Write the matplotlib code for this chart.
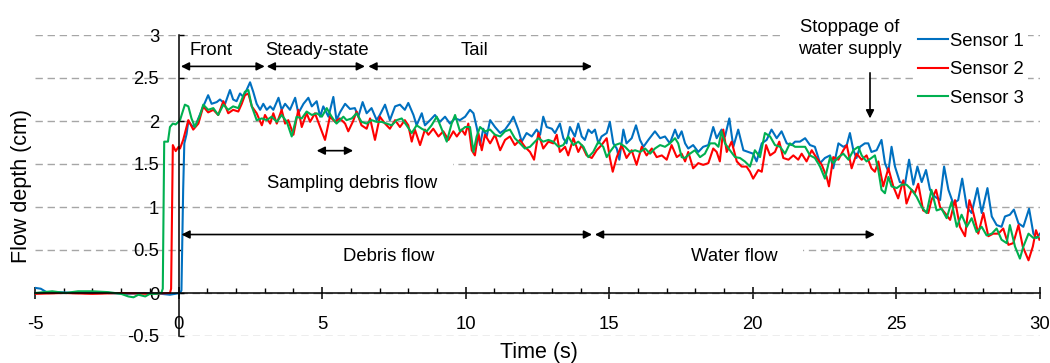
import matplotlib
matplotlib.use("Agg")
import matplotlib.pyplot as plt
from matplotlib.patches import Rectangle
from matplotlib.ticker import MultipleLocator, FormatStrFormatter

plt.rcParams['font.family'] = ['Liberation Sans', 'DejaVu Sans']
plt.rcParams['axes.unicode_minus'] = False

# Flow depth records (time in s, depth in cm) for the three sensors
t1 = [-5.0, -4.8, -4.55, -4.2, -3.6, -3.0, -2.4, -1.8, -1.2, -0.6, -0.3, 0.05, 0.1, 0.16, 0.2, 0.28,
      0.34, 0.45, 0.57, 0.69, 0.86, 1.03, 1.15, 1.33, 1.44, 1.62, 1.79, 1.9, 2.02, 2.14, 2.26, 2.37,
      2.49, 2.6, 2.72, 2.84, 2.95, 3.07, 3.19, 3.3, 3.48, 3.59, 3.71, 3.88, 4.06, 4.17, 4.35, 4.52,
      4.64, 4.81, 4.93, 5.04, 5.22, 5.39, 5.5, 5.62, 5.8, 5.97, 6.14, 6.26, 6.41, 6.55, 6.72, 6.9,
      7.01, 7.19, 7.36, 7.54, 7.71, 7.88, 8.0, 8.18, 8.29, 8.47, 8.58, 8.76, 8.93, 9.1, 9.28, 9.45,
      9.63, 9.8, 9.98, 10.15, 10.27, 10.38, 10.5, 10.61, 10.73, 10.85, 11.02, 11.2, 11.37, 11.54,
      11.66, 11.83, 11.95, 12.12, 12.3, 12.47, 12.59, 12.7, 12.82, 13.0, 13.11, 13.28, 13.4, 13.51,
      13.63, 13.8, 13.92, 14.04, 14.15, 14.27, 14.39, 14.5, 14.62, 14.73, 14.91, 15.02, 15.14,
      15.26, 15.35, 15.49, 15.6, 15.78, 15.93, 16.07, 16.19, 16.36, 16.59, 16.77, 16.94, 17.11,
      17.29, 17.4, 17.52, 17.64, 17.75, 17.92, 18.1, 18.27, 18.45, 18.62, 18.74, 18.91, 19.03,
      19.18, 19.32, 19.49, 19.67, 19.84, 20.01, 20.13, 20.31, 20.48, 20.65, 20.83, 21.0, 21.18,
      21.35, 21.47, 21.64, 21.82, 21.99, 22.16, 22.34, 22.51, 22.69, 22.8, 22.98, 23.15, 23.27,
      23.38, 23.5, 23.61, 23.73, 23.9, 24.02, 24.13, 24.31, 24.48, 24.6, 24.72, 24.83, 24.95,
      25.12, 25.3, 25.44, 25.59, 25.73, 25.88, 26.03, 26.17, 26.34, 26.52, 26.66, 26.81, 26.98,
      27.15, 27.29, 27.45, 27.62, 27.82, 27.97, 28.17, 28.32, 28.49, 28.66, 28.78, 28.95, 29.09,
      29.25, 29.42, 29.62, 29.77, 29.88, 30.0]
d1 = [0.06, 0.05, 0.0, 0.01, 0.0, 0.01, 0.0, -0.01, 0.0, -0.01, -0.02, 0.0, 0.03, 1.2, 1.74, 1.85,
      2.0, 1.95, 1.93, 2.03, 2.17, 2.30, 2.2, 2.22, 2.25, 2.2, 2.36, 2.25, 2.23, 2.32, 2.28, 2.36,
      2.45, 2.34, 2.2, 2.13, 2.2, 2.13, 2.17, 2.13, 2.27, 2.13, 2.2, 2.13, 2.27, 2.09, 2.2, 2.27,
      2.17, 2.23, 2.05, 2.17, 2.05, 2.28, 2.01, 2.1, 2.2, 2.14, 2.15, 2.05, 2.22, 2.09, 2.15, 2.01,
      2.07, 2.19, 2.01, 2.17, 2.19, 2.13, 2.21, 2.07, 1.95, 2.09, 1.95, 2.01, 2.07, 1.99, 2.05, 1.97,
      2.03, 2.01, 2.05, 2.13, 2.09, 1.93, 1.72, 1.91, 1.82, 2.01, 1.93, 1.86, 1.9, 1.98,
      2.05, 1.9, 1.76, 1.86, 1.82, 1.9, 1.84, 2.05, 1.93, 1.91, 1.86, 1.97, 1.8, 1.74,
      1.93, 1.82, 1.97, 1.82, 1.78, 1.9, 1.86, 1.9, 1.74, 1.82, 1.86, 1.99, 1.74,
      1.68, 1.55, 1.9, 1.74, 1.8, 1.95, 1.78, 1.7, 1.78, 1.88, 1.8, 1.82, 1.74,
      1.9, 1.8, 1.88, 1.74, 1.68, 1.72, 1.64, 1.7, 1.72, 1.93, 1.8, 1.9, 1.82,
      2.03, 1.7, 1.9, 1.66, 1.64, 1.62, 1.53, 1.74, 1.78, 1.9, 1.8, 1.88, 1.74,
      1.72, 1.76, 1.76, 1.8, 1.72, 1.7, 1.51, 1.57, 1.6, 1.45, 1.74, 1.7, 1.72,
      1.86, 1.66, 1.57, 1.7, 1.74, 1.74, 1.64, 1.66, 1.78, 1.51, 1.41, 1.7, 1.47,
      1.29, 1.27, 1.55, 1.26, 1.47, 1.29, 1.43, 1.2, 1.12, 1.08, 1.47, 1.2, 1.04,
      1.08, 1.33, 1.0, 0.93, 1.22, 0.93, 1.22, 0.89, 0.79, 0.77, 0.89, 0.91, 0.97,
      0.81, 0.77, 0.98, 0.69, 0.64, 0.69]

t2 = [-5.0, -4.0, -3.0, -2.0, -1.0, -0.3, -0.26, -0.2, -0.1, 0.0, 0.05, 0.16, 0.34, 0.51, 0.69,
      0.86, 1.03, 1.21, 1.38, 1.56, 1.73, 1.9, 2.08, 2.2, 2.31, 2.43, 2.55, 2.72, 2.9, 3.01, 3.19,
      3.3, 3.42, 3.59, 3.71, 3.82, 4.0, 4.17, 4.29, 4.46, 4.58, 4.75, 4.93, 5.1, 5.27, 5.45, 5.62,
      5.8, 5.91, 6.08, 6.2, 6.37, 6.55, 6.67, 6.84, 7.01, 7.19, 7.36, 7.54, 7.71, 7.88, 8.0, 8.12,
      8.23, 8.41, 8.58, 8.7, 8.87, 9.05, 9.22, 9.4, 9.57, 9.69, 9.86, 9.98, 10.09, 10.21, 10.32,
      10.44, 10.56, 10.67, 10.85, 11.02, 11.2, 11.37, 11.54, 11.71, 11.89, 12.06, 12.24, 12.38,
      12.53, 12.7, 12.88, 13.05, 13.17, 13.28, 13.46, 13.57, 13.75, 13.92, 14.04, 14.21, 14.39,
      14.56, 14.73, 14.91, 15.02, 15.12, 15.26, 15.43, 15.6, 15.78, 15.95, 16.13, 16.3, 16.48,
      16.65, 16.83, 17.0, 17.17, 17.35, 17.52, 17.64, 17.75, 17.92, 18.1, 18.27, 18.45, 18.62,
      18.74, 18.85, 18.97, 19.09, 19.26, 19.44, 19.61, 19.78, 19.9, 20.01, 20.19, 20.31, 20.46,
      20.6, 20.77, 20.92, 21.06, 21.24, 21.41, 21.58, 21.7, 21.87, 22.05, 22.22, 22.4, 22.57,
      22.65, 22.8, 22.98, 23.15, 23.27, 23.44, 23.61, 23.79, 23.96, 24.13, 24.25, 24.37, 24.54,
      24.72, 24.89, 25.06, 25.24, 25.35, 25.53, 25.64, 25.76, 25.93, 26.11, 26.22, 26.38, 26.52,
      26.69, 26.87, 27.04, 27.21, 27.39, 27.54, 27.68, 27.85, 28.03, 28.2, 28.37, 28.55, 28.72,
      28.9, 29.07, 29.25, 29.4, 29.6, 29.75, 29.86, 29.98]
d2 = [-0.01, 0.0, -0.01, 0.0, -0.01, 0.0, 0.05, 1.72, 1.65, 1.7, 1.68, 1.78, 2.01, 1.9, 1.97,
      2.17, 2.1, 2.13, 2.07, 2.23, 2.09, 2.13, 2.11, 2.2, 2.3, 2.32, 2.17, 2.09, 1.95, 2.07, 1.97,
      2.09, 1.97, 2.13, 1.97, 2.01, 1.84, 2.13, 1.93, 2.09, 1.99, 2.09, 1.93, 1.78, 2.05, 1.99, 2.03,
      1.97, 1.88, 2.0, 2.11, 1.95, 1.91, 2.03, 1.78, 2.05, 1.97, 1.91, 2.01, 1.93, 2.01, 1.95, 1.76,
      1.9, 1.72, 1.9, 1.84, 1.91, 1.82, 1.88, 1.78, 1.88, 1.82, 1.9, 1.84, 1.97, 1.66, 1.6,
      1.86, 1.66, 1.84, 1.74, 1.84, 1.66, 1.78, 1.82, 1.72, 1.78, 1.7, 1.64, 1.55,
      1.86, 1.68, 1.76, 1.74, 1.84, 1.64, 1.7, 1.6, 1.8, 1.64, 1.72, 1.6, 1.57,
      1.66, 1.72, 1.8, 1.57, 1.41, 1.58, 1.72, 1.57, 1.66, 1.49, 1.7, 1.6, 1.68,
      1.58, 1.6, 1.55, 1.72, 1.58, 1.62, 1.53, 1.64, 1.45, 1.51, 1.49, 1.51, 1.68,
      1.64, 1.53, 1.9, 1.64, 1.76, 1.53, 1.47, 1.47, 1.41, 1.33, 1.43, 1.41, 1.72,
      1.6, 1.64, 1.76, 1.57, 1.55, 1.6, 1.55, 1.62, 1.53, 1.66, 1.57, 1.49, 1.35,
      1.24, 1.58, 1.55, 1.66, 1.72, 1.45, 1.62, 1.55, 1.6, 1.45, 1.41, 1.53, 1.24,
      1.45, 1.24, 1.1, 1.31, 1.04, 1.2, 1.16, 1.27, 0.96, 0.93, 1.08, 1.2, 1.0,
      0.93, 0.85, 1.08, 0.77, 0.66, 1.08, 0.93, 0.69, 0.93, 0.66, 0.69, 0.69, 0.75,
      0.56, 0.58, 0.79, 0.54, 0.38, 0.54, 0.73, 0.62]

t3 = [-5.0, -4.4, -3.95, -3.5, -3.0, -2.45, -2.0, -1.75, -1.57, -1.4, -1.16, -1.0, -0.8, -0.6,
      -0.55, -0.5, -0.37, -0.3, -0.2, -0.1, 0.05, 0.22, 0.34, 0.45, 0.57, 0.75, 0.86, 1.03, 1.21,
      1.38, 1.56, 1.73, 1.9, 2.08, 2.2, 2.31, 2.43, 2.55, 2.72, 2.9, 3.07, 3.24, 3.42, 3.59, 3.77,
      3.94, 4.11, 4.29, 4.46, 4.64, 4.81, 4.99, 5.16, 5.33, 5.5, 5.74, 5.85, 6.03, 6.2, 6.37, 6.55,
      6.72, 6.9, 7.07, 7.25, 7.42, 7.6, 7.77, 7.94, 8.12, 8.29, 8.47, 8.64, 8.81, 8.99, 9.16, 9.34,
      9.51, 9.63, 9.8, 9.98, 10.15, 10.27, 10.38, 10.5, 10.67, 10.85, 11.02, 11.2, 11.37, 11.54,
      11.71, 11.89, 12.06, 12.24, 12.41, 12.53, 12.7, 12.88, 13.05, 13.23, 13.4, 13.57, 13.75,
      13.92, 14.1, 14.27, 14.44, 14.62, 14.79, 14.91, 15.02, 15.2, 15.37, 15.55, 15.72, 15.9,
      16.07, 16.25, 16.42, 16.59, 16.77, 16.94, 17.11, 17.29, 17.4, 17.52, 17.63, 17.81, 17.98,
      18.16, 18.33, 18.51, 18.68, 18.8, 18.91, 19.03, 19.2, 19.38, 19.55, 19.72, 19.9, 20.07,
      20.25, 20.42, 20.6, 20.77, 20.95, 21.12, 21.29, 21.47, 21.64, 21.82, 21.99, 22.16, 22.34,
      22.51, 22.69, 22.8, 22.98, 23.15, 23.33, 23.5, 23.67, 23.79, 23.96, 24.13, 24.25, 24.37,
      24.48, 24.6, 24.72, 24.83, 25.01, 25.18, 25.35, 25.53, 25.7, 25.88, 26.05, 26.22, 26.4,
      26.57, 26.75, 26.92, 27.1, 27.27, 27.45, 27.62, 27.79, 27.97, 28.14, 28.32, 28.49, 28.66,
      28.84, 28.95, 29.13, 29.3, 29.42, 29.6, 29.77, 29.94]
d3 = [0.0, 0.02, 0.0, 0.02, 0.02, 0.01, -0.01, -0.04, -0.05, -0.02, -0.04, -0.01, -0.01, 0.0,
      0.05, 1.76, 1.76, 1.93, 1.97, 1.96, 2.01, 2.19, 2.17, 2.03, 1.93, 2.07, 2.19, 2.13, 2.15,
      2.07, 2.19, 2.13, 2.17, 2.15, 2.25, 2.34, 2.36, 2.17, 2.01, 2.03, 2.01, 2.05, 1.99, 2.07, 1.99,
      1.82, 2.05, 2.03, 2.11, 2.07, 2.09, 2.05, 2.15, 2.05, 1.97, 2.05, 2.01, 2.03, 2.09, 1.99, 1.97,
      2.01, 1.99, 1.99, 1.97, 1.95, 2.01, 2.03, 1.95, 1.86, 1.95, 1.91, 1.88, 1.95, 2.05, 1.91, 1.76,
      1.97, 2.07, 1.88, 1.93, 1.93, 1.64, 1.82, 1.93, 1.88, 1.9, 1.84, 1.82, 1.88, 1.9,
      1.8, 1.74, 1.68, 1.7, 1.76, 1.8, 1.76, 1.78, 1.76, 1.7, 1.72, 1.82, 1.72,
      1.76, 1.7, 1.58, 1.64, 1.76, 1.7, 1.58, 1.64, 1.72, 1.74, 1.7, 1.64, 1.66,
      1.64, 1.68, 1.62, 1.68, 1.72, 1.7, 1.74, 1.8, 1.74, 1.58, 1.57, 1.62, 1.66,
      1.58, 1.62, 1.74, 1.74, 1.7, 1.88, 1.74, 1.66, 1.58, 1.57, 1.53, 1.47, 1.66,
      1.58, 1.86, 1.82, 1.72, 1.7, 1.62, 1.74, 1.7, 1.7, 1.7, 1.6, 1.57, 1.47,
      1.33, 1.58, 1.51, 1.58, 1.62, 1.55, 1.66, 1.7, 1.6, 1.53, 1.57, 1.6, 1.43,
      1.2, 1.16, 1.35, 1.24, 1.22, 1.26, 1.26, 1.2, 1.12, 1.0, 0.93, 1.2, 0.96,
      0.98, 0.87, 1.06, 0.77, 0.91, 0.77, 0.87, 0.71, 0.77, 0.67, 0.69, 0.75, 0.62,
      0.58, 0.79, 0.54, 0.4, 0.54, 0.69, 0.64, 0.65]

series = [(t1, d1, '#0070C0', 'Sensor 1'),
          (t2, d2, '#FF0000', 'Sensor 2'),
          (t3, d3, '#00B050', 'Sensor 3')]

W, H = 1050, 363
fig = plt.figure(figsize=(W / 100, H / 100), dpi=100)
ax = fig.add_axes([35 / W, 27 / H, 1005 / W, 301 / H])
ax.set_xlim(-5, 30)
ax.set_ylim(-0.5, 3)

# axes cross at the origin
for side in ['top', 'right']:
    ax.spines[side].set_visible(False)
ax.spines['left'].set_position(('data', 0))
ax.spines['bottom'].set_position(('data', 0))
ax.spines['left'].set_linewidth(1.1)
ax.spines['bottom'].set_linewidth(1.1)
ax.spines['left'].set_zorder(2.6)
ax.spines['bottom'].set_zorder(2.6)

ax.xaxis.set_major_locator(MultipleLocator(5))
ax.xaxis.set_minor_locator(MultipleLocator(1))
ax.yaxis.set_major_locator(MultipleLocator(0.5))
ax.yaxis.set_major_formatter(FormatStrFormatter('%g'))
ax.tick_params(axis='x', which='major', direction='inout', length=8.6, width=1.1,
               labelsize=13.3, pad=12)
ax.tick_params(axis='x', which='minor', direction='in', length=3.6, width=1.0)
ax.tick_params(axis='y', which='major', direction='in', length=3.6, width=1.0,
               labelsize=13.3, pad=14)

ax.grid(axis='y', linestyle=(0, (5.3, 3.4)), color='#A6A6A6', linewidth=1.0, zorder=0.5)
ax.set_axisbelow(True)

# white panels behind the annotation text boxes
for x0, y0, w, h in [(2.6, 1.02, 6.96, 0.53), (0.1, 0.17, 21.65, 0.45), (21.0, 2.69, 4.65, 0.6)]:
    ax.add_patch(Rectangle((x0, y0), w, h, facecolor='white', edgecolor='none', zorder=1))

for t, d, c, lab in series:
    ax.plot(t, d, color=c, lw=1.5, label=lab, zorder=2, solid_joinstyle='round')

arrow = dict(arrowstyle='<|-|>', mutation_scale=12, lw=1.2, color='k', shrinkA=0, shrinkB=0)
for xa, xb, y in [(0.08, 3.0, 2.635), (3.07, 6.49, 2.635), (6.61, 14.4, 2.635),
                  (4.81, 6.08, 1.655), (0.1, 14.4, 0.68), (14.5, 24.25, 0.68)]:
    ax.annotate('', xy=(xb, y), xytext=(xa, y), arrowprops=arrow, zorder=3)
ax.annotate('', xy=(24.08, 2.03), xytext=(24.08, 2.56),
            arrowprops=dict(arrowstyle='-|>', mutation_scale=12, lw=1.2, color='k',
                            shrinkA=0, shrinkB=0), zorder=3)

fs = 13.3
for x, y, s in [(1.13, 2.77, 'Front'), (4.81, 2.77, 'Steady-state'), (10.29, 2.77, 'Tail'),
                (6.04, 1.22, 'Sampling debris flow'), (7.33, 0.37, 'Debris flow'),
                (19.35, 0.37, 'Water flow'), (23.38, 3.03, 'Stoppage of'),
                (23.38, 2.78, 'water supply')]:
    ax.text(x, y, s, ha='center', va='baseline', fontsize=fs, zorder=4)

leg = ax.legend(loc='upper left', bbox_to_anchor=(913 / W, 1 - 28 / H),
                bbox_transform=fig.transFigure, fontsize=fs, frameon=True, fancybox=False,
                edgecolor='none', facecolor='white', framealpha=1, handlelength=1.62,
                handletextpad=0.12, labelspacing=0.62, borderpad=0.25, borderaxespad=0)
leg.set_zorder(5)

fig.text(22 / W, 1 - 186 / H, 'Flow depth (cm)', rotation=90, ha='center', va='center',
         fontsize=15.5)
fig.text(538.5 / W, 1 - 352.5 / H, 'Time (s)', ha='center', va='center', fontsize=15.5)

fig.savefig('out.png', dpi=100)
